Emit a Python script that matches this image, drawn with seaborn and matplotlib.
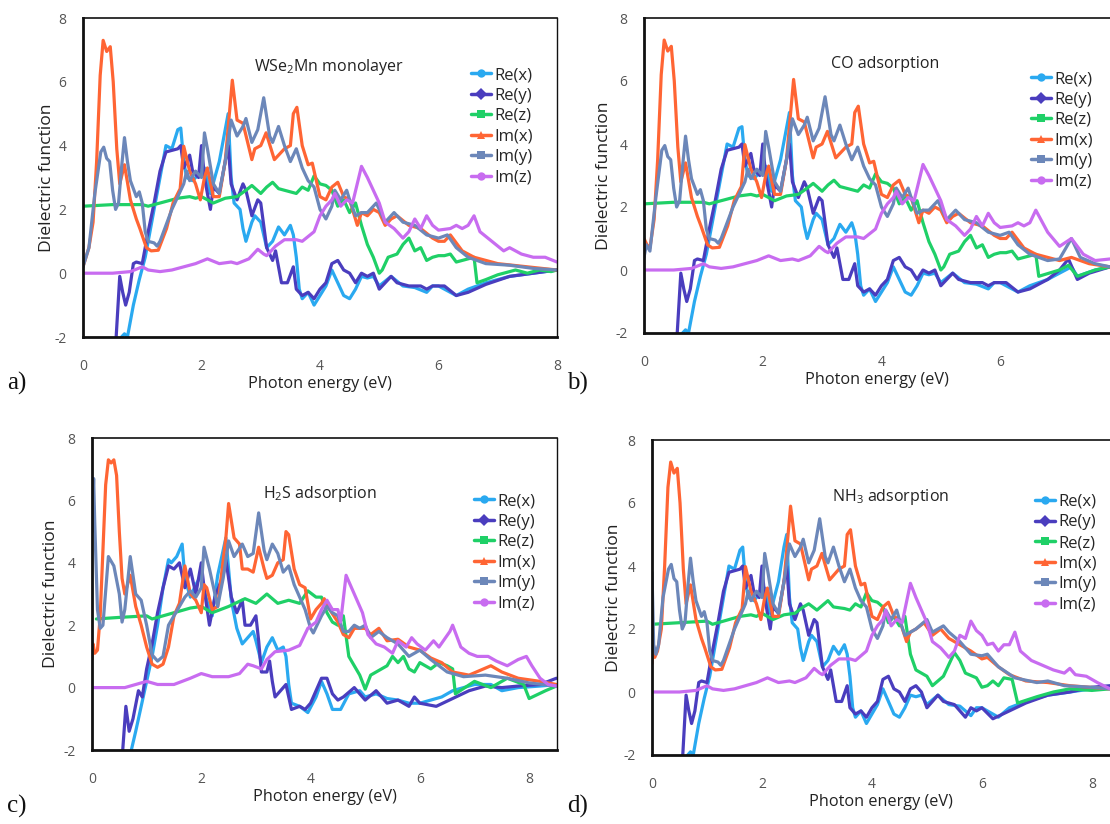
import matplotlib
matplotlib.use("Agg")
import matplotlib.pyplot as plt
from matplotlib.lines import Line2D
import seaborn as sns
import pandas as pd

# ---------------- data: (photon energy [eV], dielectric function) ----------------
# (a) WSe2Mn monolayer
REX_A = [(0.6,-2.3),(0.65,-2.0),(0.7,-1.9),(0.75,-2.0),(0.85,-1.0),(0.95,-0.2),(1.05,0.5),(1.2,2.0),(1.3,3.0),(1.4,4.0),(1.5,3.9),(1.6,4.5),(1.65,4.55),(1.7,3.5),(1.75,3.0),(1.85,2.9),(1.95,3.1),(2.05,3.3),(2.15,2.5),(2.3,3.5),(2.4,4.5),(2.45,5.0),(2.5,3.0),(2.55,2.2),(2.65,2.0),(2.7,1.4),(2.75,1.0),(2.85,1.6),(2.9,1.8),(3.0,1.6),(3.1,0.8),(3.2,1.0),(3.3,1.45),(3.4,1.2),(3.5,1.5),(3.55,1.2),(3.6,0.5),(3.65,-0.5),(3.7,-0.8),(3.8,-0.6),(3.9,-1.0),(4.0,-0.7),(4.1,-0.4),(4.2,0.1),(4.3,-0.3),(4.4,-0.7),(4.5,-0.8),(4.6,-0.5),(4.7,-0.1),(4.8,-0.15),(4.9,-0.1),(5.0,-0.4),(5.2,-0.1),(5.4,-0.4),(5.6,-0.45),(5.8,-0.6),(5.9,-0.4),(6.0,-0.4),(6.2,-0.6),(6.3,-0.7),(6.5,-0.5),(6.8,-0.3),(7.2,-0.1),(7.6,0.0),(8.0,0.1)]
REY_A = [(0.55,-2.3),(0.62,-0.1),(0.67,-0.6),(0.72,-1.0),(0.78,-0.6),(0.85,0.3),(0.9,0.35),(1.0,0.3),(1.1,1.3),(1.2,2.2),(1.3,3.2),(1.4,3.8),(1.5,3.85),(1.6,3.9),(1.65,4.0),(1.7,3.3),(1.8,3.7),(1.85,3.2),(1.95,3.0),(2.0,4.0),(2.05,3.0),(2.15,2.0),(2.2,2.7),(2.3,2.5),(2.4,3.5),(2.45,4.0),(2.5,2.8),(2.6,2.3),(2.7,2.8),(2.75,2.6),(2.85,1.8),(2.95,2.3),(3.0,2.2),(3.05,1.5),(3.1,0.8),(3.2,0.4),(3.25,0.7),(3.3,0.2),(3.35,-0.3),(3.45,-0.3),(3.55,0.2),(3.6,-0.5),(3.7,-0.7),(3.8,-0.6),(3.9,-0.8),(4.0,-0.5),(4.1,-0.3),(4.2,0.3),(4.3,0.4),(4.4,0.1),(4.5,0.0),(4.6,-0.3),(4.7,0.0),(4.8,-0.1),(4.9,0.0),(5.0,-0.5),(5.2,-0.1),(5.3,-0.3),(5.5,-0.4),(5.7,-0.4),(5.8,-0.5),(5.9,-0.4),(6.1,-0.4),(6.3,-0.7),(6.5,-0.6),(6.8,-0.35),(7.2,-0.1),(7.6,0.0),(8.0,0.1)]
REZ_A = [(0.0,2.1),(0.5,2.15),(1.0,2.15),(1.1,2.1),(1.4,2.25),(1.6,2.35),(1.8,2.4),(1.9,2.35),(2.0,2.4),(2.1,2.3),(2.2,2.2),(2.4,2.35),(2.6,2.4),(2.75,2.6),(2.85,2.75),(3.0,2.5),(3.1,2.7),(3.2,2.85),(3.3,2.65),(3.5,2.55),(3.6,2.5),(3.7,2.7),(3.8,2.6),(3.9,3.05),(4.0,2.8),(4.1,2.75),(4.2,2.6),(4.3,2.1),(4.4,2.3),(4.5,1.9),(4.6,2.2),(4.7,1.5),(4.8,0.9),(4.9,0.5),(5.0,0.0),(5.05,0.1),(5.15,0.5),(5.3,0.6),(5.4,0.9),(5.5,1.1),(5.6,0.7),(5.7,0.8),(5.8,0.4),(5.9,0.5),(6.0,0.55),(6.1,0.55),(6.2,0.6),(6.3,0.35),(6.4,0.4),(6.6,0.5),(6.65,-0.3),(6.8,-0.2),(7.0,-0.05),(7.3,0.1),(7.5,0.0),(7.7,0.1),(7.9,0.05),(8.0,0.1)]
IMX_A = [(0.0,0.2),(0.1,0.8),(0.17,1.6),(0.23,3.5),(0.29,6.2),(0.34,7.3),(0.4,6.95),(0.46,7.1),(0.51,6.0),(0.57,3.9),(0.62,2.8),(0.7,3.4),(0.8,2.3),(0.9,1.7),(0.96,1.4),(1.07,0.8),(1.15,0.7),(1.27,0.72),(1.41,1.4),(1.52,2.2),(1.64,2.65),(1.7,3.98),(1.8,3.2),(1.9,2.8),(1.98,2.3),(2.05,3.0),(2.1,3.3),(2.2,2.4),(2.3,2.4),(2.4,3.5),(2.52,6.05),(2.6,4.8),(2.7,4.7),(2.85,3.56),(2.9,3.9),(3.0,4.0),(3.09,4.4),(3.23,3.56),(3.3,3.7),(3.4,3.9),(3.5,4.0),(3.55,5.0),(3.61,5.2),(3.7,4.0),(3.8,3.4),(3.87,3.45),(4.0,2.4),(4.1,2.3),(4.2,2.7),(4.3,2.85),(4.4,2.4),(4.5,2.3),(4.63,1.5),(4.7,1.9),(4.8,1.8),(4.9,2.0),(5.0,1.9),(5.1,1.5),(5.2,1.7),(5.3,1.8),(5.5,1.5),(5.7,1.4),(5.9,1.1),(6.0,1.0),(6.1,1.0),(6.2,1.2),(6.4,0.7),(6.6,0.5),(7.0,0.3),(7.5,0.2),(8.0,0.1)]
IMY_A = [(0.0,0.2),(0.1,0.8),(0.2,2.5),(0.3,3.8),(0.35,3.95),(0.4,3.6),(0.45,3.5),(0.5,2.6),(0.55,2.0),(0.6,2.2),(0.65,3.3),(0.7,4.25),(0.75,3.5),(0.8,2.9),(0.9,2.4),(0.95,2.55),(1.0,2.2),(1.05,1.3),(1.1,1.0),(1.2,0.95),(1.25,0.85),(1.3,1.0),(1.4,1.5),(1.5,2.0),(1.6,2.4),(1.7,2.8),(1.75,3.2),(1.8,2.9),(1.9,3.2),(2.0,3.0),(2.05,4.4),(2.1,3.9),(2.2,2.8),(2.3,2.5),(2.4,3.5),(2.5,4.8),(2.6,4.3),(2.7,4.6),(2.75,4.85),(2.85,4.1),(2.95,4.5),(3.05,5.5),(3.15,4.3),(3.2,4.1),(3.3,4.6),(3.4,4.0),(3.5,3.5),(3.6,3.9),(3.7,3.3),(3.8,2.9),(3.9,2.7),(4.0,2.0),(4.1,1.7),(4.2,2.1),(4.25,2.6),(4.35,2.3),(4.45,2.6),(4.5,2.3),(4.6,1.8),(4.7,1.9),(4.8,1.9),(4.95,2.2),(5.1,1.6),(5.25,1.9),(5.4,1.6),(5.6,1.5),(5.8,1.2),(6.0,1.1),(6.15,1.2),(6.3,0.8),(6.5,0.5),(6.8,0.3),(7.2,0.25),(7.6,0.15),(8.0,0.1)]
IMZ_A = [(0.0,0.0),(0.5,0.0),(0.8,0.05),(1.0,0.2),(1.1,0.1),(1.3,0.05),(1.5,0.1),(1.7,0.2),(1.9,0.3),(2.1,0.45),(2.3,0.3),(2.5,0.35),(2.6,0.3),(2.8,0.45),(2.95,0.75),(3.05,0.6),(3.1,0.55),(3.25,0.85),(3.4,1.05),(3.6,1.05),(3.7,1.0),(3.8,1.15),(3.9,1.3),(4.0,1.8),(4.1,2.1),(4.2,2.3),(4.25,2.5),(4.35,2.1),(4.45,2.3),(4.55,2.2),(4.7,3.35),(4.8,3.0),(4.9,2.6),(5.0,2.2),(5.1,1.6),(5.25,1.4),(5.4,1.1),(5.5,1.3),(5.6,1.7),(5.7,1.4),(5.8,1.8),(5.9,1.5),(6.0,1.35),(6.2,1.4),(6.3,1.5),(6.4,1.4),(6.5,1.5),(6.6,1.8),(6.7,1.3),(6.9,1.0),(7.1,0.7),(7.2,0.8),(7.4,0.6),(7.6,0.5),(7.8,0.5),(8.0,0.35)]

# (b) CO adsorption
REX_B = [(0.6,-2.3),(0.65,-2.0),(0.7,-1.9),(0.75,-2.0),(0.85,-1.0),(0.95,-0.2),(1.05,0.5),(1.2,2.0),(1.3,3.0),(1.4,4.0),(1.5,3.9),(1.6,4.5),(1.65,4.55),(1.7,3.5),(1.75,3.0),(1.85,2.9),(1.95,3.1),(2.05,3.3),(2.15,2.5),(2.3,3.5),(2.4,4.5),(2.45,5.0),(2.5,3.0),(2.55,2.2),(2.65,2.0),(2.7,1.4),(2.75,1.0),(2.85,1.6),(2.9,1.8),(3.0,1.6),(3.1,0.8),(3.2,1.0),(3.3,1.45),(3.4,1.2),(3.5,1.5),(3.55,1.2),(3.6,0.5),(3.65,-0.5),(3.7,-0.8),(3.8,-0.6),(3.9,-1.0),(4.0,-0.7),(4.1,-0.4),(4.2,0.1),(4.3,-0.3),(4.4,-0.7),(4.5,-0.8),(4.6,-0.5),(4.7,-0.1),(4.8,-0.15),(4.9,-0.1),(5.0,-0.4),(5.2,-0.1),(5.4,-0.4),(5.6,-0.45),(5.8,-0.6),(5.9,-0.4),(6.0,-0.4),(6.2,-0.6),(6.3,-0.7),(6.5,-0.5),(6.8,-0.3),(7.0,-0.1),(7.2,0.1),(7.3,-0.2),(7.6,0.0),(7.85,0.1)]
REY_B = [(0.55,-2.3),(0.62,-0.1),(0.67,-0.6),(0.72,-1.0),(0.78,-0.6),(0.85,0.3),(0.9,0.35),(1.0,0.3),(1.1,1.3),(1.2,2.2),(1.3,3.2),(1.4,3.8),(1.5,3.85),(1.6,3.9),(1.65,4.0),(1.7,3.3),(1.8,3.7),(1.85,3.2),(1.95,3.0),(2.0,4.0),(2.05,3.0),(2.15,2.0),(2.2,2.7),(2.3,2.5),(2.4,3.5),(2.45,4.0),(2.5,2.8),(2.6,2.3),(2.7,2.8),(2.75,2.6),(2.85,1.8),(2.95,2.3),(3.0,2.2),(3.05,1.5),(3.1,0.8),(3.2,0.4),(3.25,0.7),(3.3,0.2),(3.35,-0.3),(3.45,-0.3),(3.55,0.2),(3.6,-0.5),(3.7,-0.7),(3.8,-0.6),(3.9,-0.8),(4.0,-0.5),(4.1,-0.3),(4.2,0.3),(4.3,0.4),(4.4,0.1),(4.5,0.0),(4.6,-0.3),(4.7,0.0),(4.8,-0.1),(4.9,0.0),(5.0,-0.5),(5.2,-0.1),(5.3,-0.3),(5.5,-0.4),(5.7,-0.4),(5.8,-0.5),(5.9,-0.4),(6.1,-0.4),(6.3,-0.7),(6.5,-0.6),(6.8,-0.3),(7.0,0.0),(7.15,0.35),(7.3,-0.3),(7.5,-0.1),(7.85,0.1)]
REZ_B = [(0.0,2.1),(0.5,2.15),(1.0,2.15),(1.1,2.1),(1.4,2.25),(1.6,2.35),(1.8,2.4),(1.9,2.35),(2.0,2.4),(2.1,2.3),(2.2,2.2),(2.4,2.35),(2.6,2.4),(2.75,2.6),(2.85,2.75),(3.0,2.5),(3.1,2.7),(3.2,2.85),(3.3,2.65),(3.5,2.55),(3.6,2.5),(3.7,2.7),(3.8,2.6),(3.9,3.05),(4.0,2.8),(4.1,2.75),(4.2,2.6),(4.3,2.1),(4.4,2.3),(4.5,1.9),(4.6,2.2),(4.7,1.5),(4.8,0.9),(4.9,0.5),(5.0,0.0),(5.05,0.1),(5.15,0.5),(5.3,0.6),(5.4,0.9),(5.5,1.1),(5.6,0.7),(5.7,0.8),(5.8,0.4),(5.9,0.5),(6.0,0.55),(6.1,0.55),(6.2,0.6),(6.3,0.35),(6.4,0.4),(6.6,0.5),(6.65,-0.2),(7.0,0.0),(7.15,0.15),(7.3,-0.2),(7.6,0.0),(7.85,0.1)]
IMX_B = [(0.0,1.0),(0.05,0.8),(0.1,0.7),(0.17,1.6),(0.23,3.5),(0.29,6.2),(0.34,7.3),(0.4,6.95),(0.46,7.1),(0.51,6.0),(0.57,3.9),(0.62,2.8),(0.7,3.4),(0.8,2.3),(0.9,1.7),(0.96,1.4),(1.07,0.8),(1.15,0.7),(1.27,0.72),(1.41,1.4),(1.52,2.2),(1.64,2.65),(1.7,3.98),(1.8,3.2),(1.9,2.8),(1.98,2.3),(2.05,3.0),(2.1,3.3),(2.2,2.4),(2.3,2.4),(2.4,3.5),(2.52,6.05),(2.6,4.8),(2.7,4.7),(2.85,3.56),(2.9,3.9),(3.0,4.0),(3.09,4.4),(3.23,3.56),(3.3,3.7),(3.4,3.9),(3.5,4.0),(3.55,5.0),(3.61,5.2),(3.7,4.0),(3.8,3.4),(3.87,3.45),(4.0,2.4),(4.1,2.3),(4.2,2.7),(4.3,2.85),(4.4,2.4),(4.5,2.3),(4.63,1.5),(4.7,1.9),(4.8,1.8),(4.9,2.0),(5.0,1.9),(5.1,1.5),(5.2,1.7),(5.3,1.8),(5.5,1.5),(5.7,1.4),(5.9,1.1),(6.0,1.0),(6.1,1.0),(6.2,1.2),(6.4,0.7),(6.6,0.5),(7.0,0.3),(7.2,0.4),(7.5,0.2),(7.85,0.1)]
IMY_B = [(0.0,0.4),(0.04,0.8),(0.1,0.6),(0.2,2.3),(0.3,3.8),(0.35,3.95),(0.4,3.6),(0.45,3.5),(0.5,2.6),(0.55,2.0),(0.6,2.2),(0.65,3.3),(0.7,4.25),(0.75,3.5),(0.8,2.9),(0.9,2.4),(0.95,2.55),(1.0,2.2),(1.05,1.3),(1.1,1.0),(1.2,0.95),(1.25,0.85),(1.3,1.0),(1.4,1.5),(1.5,2.0),(1.6,2.4),(1.7,2.8),(1.75,3.2),(1.8,2.9),(1.9,3.2),(2.0,3.0),(2.05,4.4),(2.1,3.9),(2.2,2.8),(2.3,2.5),(2.4,3.5),(2.5,4.8),(2.6,4.3),(2.7,4.6),(2.75,4.85),(2.85,4.1),(2.95,4.5),(3.05,5.5),(3.15,4.3),(3.2,4.1),(3.3,4.6),(3.4,4.0),(3.5,3.5),(3.6,3.9),(3.7,3.3),(3.8,2.9),(3.9,2.7),(4.0,2.0),(4.1,1.7),(4.2,2.1),(4.25,2.6),(4.35,2.3),(4.45,2.6),(4.5,2.3),(4.6,1.8),(4.7,1.9),(4.8,1.9),(4.95,2.2),(5.1,1.6),(5.25,1.9),(5.4,1.6),(5.6,1.5),(5.8,1.2),(6.0,1.1),(6.15,1.2),(6.3,0.8),(6.5,0.5),(6.8,0.3),(7.0,0.35),(7.2,1.0),(7.35,0.4),(7.6,0.2),(7.85,0.1)]
IMZ_B = [(0.0,0.0),(0.5,0.0),(0.8,0.05),(1.0,0.2),(1.1,0.1),(1.3,0.05),(1.5,0.1),(1.7,0.2),(1.9,0.3),(2.1,0.45),(2.3,0.3),(2.5,0.35),(2.6,0.3),(2.8,0.45),(2.95,0.75),(3.05,0.6),(3.1,0.55),(3.25,0.85),(3.4,1.05),(3.6,1.05),(3.7,1.0),(3.8,1.15),(3.9,1.3),(4.0,1.8),(4.1,2.1),(4.2,2.3),(4.25,2.5),(4.35,2.1),(4.45,2.3),(4.55,2.2),(4.7,3.35),(4.8,3.0),(4.9,2.6),(5.0,2.2),(5.1,1.6),(5.25,1.4),(5.4,1.1),(5.5,1.3),(5.6,1.7),(5.7,1.4),(5.8,1.8),(5.9,1.5),(6.0,1.35),(6.2,1.4),(6.3,1.5),(6.4,1.4),(6.5,1.5),(6.6,1.9),(6.8,1.2),(7.0,0.75),(7.2,1.0),(7.4,0.5),(7.6,0.3),(7.85,0.35)]

# (c) H2S adsorption
REX_C = [(0.68,-2.3),(0.72,-2.0),(0.8,-1.4),(0.9,-0.6),(1.0,0.2),(1.1,1.0),(1.2,2.0),(1.3,3.2),(1.4,4.1),(1.45,4.0),(1.55,4.2),(1.65,4.6),(1.7,3.5),(1.8,2.9),(1.9,3.3),(2.0,3.6),(2.1,2.8),(2.2,2.3),(2.3,3.6),(2.45,4.8),(2.5,3.8),(2.55,2.8),(2.65,1.9),(2.75,1.4),(2.85,1.6),(2.95,1.8),(3.0,1.5),(3.1,0.8),(3.2,1.3),(3.3,1.6),(3.4,1.2),(3.5,1.3),(3.55,1.0),(3.6,0.1),(3.65,-0.5),(3.8,-0.6),(3.95,-0.8),(4.1,-0.3),(4.2,0.2),(4.3,-0.2),(4.4,-0.7),(4.55,-0.7),(4.7,-0.2),(4.9,-0.1),(5.0,-0.3),(5.2,-0.2),(5.4,-0.35),(5.6,-0.4),(5.8,-0.5),(6.0,-0.5),(6.2,-0.4),(6.4,-0.3),(6.6,-0.1),(6.8,0.0),(7.0,0.1),(7.3,0.1),(7.5,-0.1),(7.8,0.0),(8.2,0.05),(8.5,0.1)]
REY_C = [(0.55,-2.3),(0.62,-0.6),(0.68,-1.4),(0.75,-1.0),(0.85,-0.1),(0.92,-0.3),(1.0,0.6),(1.1,1.4),(1.2,2.4),(1.3,3.2),(1.4,3.9),(1.5,3.8),(1.6,4.0),(1.7,3.2),(1.8,3.8),(1.9,3.0),(2.0,4.0),(2.05,3.2),(2.15,2.0),(2.25,2.9),(2.4,3.6),(2.45,4.1),(2.55,2.9),(2.65,2.4),(2.75,2.8),(2.8,2.0),(2.9,2.0),(3.0,2.3),(3.05,1.5),(3.1,0.5),(3.2,0.5),(3.25,0.85),(3.3,0.2),(3.35,-0.3),(3.45,-0.1),(3.55,0.1),(3.65,-0.7),(3.8,-0.6),(3.9,-0.7),(4.0,-0.5),(4.1,-0.1),(4.2,0.3),(4.3,0.3),(4.4,-0.2),(4.5,-0.4),(4.6,-0.3),(4.8,0.0),(5.0,-0.4),(5.2,-0.1),(5.4,-0.5),(5.6,-0.4),(5.8,-0.6),(5.9,-0.3),(6.0,-0.5),(6.3,-0.6),(6.6,-0.35),(6.9,-0.1),(7.2,0.05),(7.5,0.0),(7.8,0.05),(8.2,0.1),(8.5,0.3)]
REZ_C = [(0.08,2.2),(0.5,2.25),(1.0,2.3),(1.1,2.2),(1.5,2.4),(1.8,2.55),(2.0,2.6),(2.2,2.4),(2.5,2.6),(2.8,2.85),(3.0,2.7),(3.2,3.0),(3.4,2.7),(3.6,2.8),(3.8,2.7),(3.95,3.1),(4.1,2.9),(4.2,2.9),(4.3,2.4),(4.4,2.1),(4.5,2.0),(4.6,2.3),(4.7,1.0),(4.8,0.7),(4.9,0.4),(5.0,-0.05),(5.1,0.4),(5.2,0.5),(5.3,0.6),(5.4,0.7),(5.5,1.0),(5.6,0.8),(5.7,1.0),(5.8,0.6),(5.9,0.5),(6.0,0.8),(6.2,0.6),(6.35,0.8),(6.5,0.7),(6.6,0.6),(6.65,-0.2),(7.0,0.2),(7.3,0.0),(7.6,0.3),(7.9,0.1),(8.0,-0.35),(8.3,-0.1),(8.5,0.05)]
IMX_C = [(0.0,0.9),(0.02,1.4),(0.05,1.1),(0.1,1.2),(0.15,2.3),(0.25,6.5),(0.3,7.3),(0.35,7.2),(0.4,7.3),(0.45,6.8),(0.5,5.0),(0.55,3.5),(0.6,3.0),(0.7,3.6),(0.8,2.6),(0.9,2.0),(1.0,1.3),(1.1,0.75),(1.2,0.65),(1.3,0.75),(1.4,1.3),(1.5,2.3),(1.6,2.7),(1.7,3.9),(1.8,3.0),(1.9,2.8),(2.0,2.4),(2.05,3.3),(2.1,3.2),(2.2,2.5),(2.3,2.6),(2.45,4.8),(2.5,5.9),(2.6,4.8),(2.7,4.6),(2.75,3.8),(2.85,3.8),(2.95,3.7),(3.05,4.5),(3.15,3.8),(3.2,3.5),(3.3,3.6),(3.4,4.0),(3.5,4.1),(3.55,5.0),(3.6,4.9),(3.7,3.8),(3.8,3.3),(3.9,3.2),(4.0,2.2),(4.1,2.5),(4.2,2.7),(4.25,2.85),(4.35,2.5),(4.5,2.1),(4.6,1.7),(4.7,1.6),(4.8,1.9),(5.0,1.9),(5.1,1.7),(5.25,1.9),(5.4,1.5),(5.6,1.55),(5.8,1.3),(6.0,1.2),(6.2,0.95),(6.4,0.8),(6.6,0.5),(6.9,0.4),(7.3,0.7),(7.5,0.5),(7.8,0.3),(8.2,0.2),(8.5,0.1)]
IMY_C = [(0.0,5.0),(0.03,6.7),(0.05,5.3),(0.1,2.5),(0.15,1.9),(0.2,2.0),(0.3,4.2),(0.4,3.9),(0.5,3.0),(0.55,2.1),(0.6,2.5),(0.7,4.2),(0.8,3.0),(0.9,2.8),(1.0,2.0),(1.1,1.05),(1.2,0.85),(1.3,1.0),(1.4,2.0),(1.5,2.3),(1.6,2.6),(1.7,2.9),(1.8,3.1),(1.9,2.9),(2.0,3.2),(2.05,4.5),(2.15,3.8),(2.3,2.6),(2.4,3.5),(2.5,4.7),(2.6,4.2),(2.75,4.6),(2.85,4.2),(2.95,4.3),(3.05,5.6),(3.15,4.4),(3.2,4.1),(3.3,4.6),(3.4,4.3),(3.5,3.7),(3.6,3.9),(3.7,3.3),(3.8,2.9),(3.9,2.5),(4.0,1.9),(4.05,1.75),(4.2,2.3),(4.3,2.6),(4.4,2.4),(4.5,2.3),(4.6,1.8),(4.7,1.8),(4.8,2.0),(4.9,1.9),(5.0,2.0),(5.1,1.6),(5.25,1.8),(5.4,1.6),(5.6,1.4),(5.8,1.0),(6.0,1.2),(6.2,0.9),(6.5,0.5),(6.8,0.35),(7.2,0.4),(7.6,0.3),(8.0,0.15),(8.5,0.05)]
IMZ_C = [(0.0,0.0),(0.6,0.0),(0.9,0.15),(1.0,0.2),(1.2,0.1),(1.5,0.1),(1.8,0.3),(2.0,0.45),(2.2,0.35),(2.5,0.35),(2.7,0.45),(2.85,0.75),(2.95,0.7),(3.1,0.6),(3.2,0.9),(3.35,1.15),(3.6,1.2),(3.8,1.35),(3.95,1.9),(4.1,2.1),(4.2,2.5),(4.3,2.8),(4.4,2.5),(4.5,2.5),(4.55,2.1),(4.65,3.6),(4.8,3.0),(4.95,2.4),(5.05,1.7),(5.2,1.4),(5.35,1.3),(5.5,1.1),(5.6,1.5),(5.75,1.3),(5.85,1.6),(5.95,1.4),(6.1,1.2),(6.25,1.5),(6.35,1.3),(6.55,1.8),(6.6,2.0),(6.75,1.3),(6.9,1.1),(7.05,1.0),(7.25,1.0),(7.4,0.85),(7.6,0.7),(7.8,0.9),(7.95,1.0),(8.05,0.7),(8.2,0.3),(8.35,0.1),(8.5,0.05)]

# (d) NH3 adsorption
REX_D = [(0.6,-2.3),(0.65,-2.0),(0.7,-1.9),(0.75,-2.0),(0.85,-1.0),(0.95,-0.2),(1.05,0.5),(1.2,2.0),(1.3,3.0),(1.4,4.0),(1.5,3.9),(1.6,4.5),(1.65,4.6),(1.7,3.5),(1.75,3.0),(1.85,2.9),(1.95,3.1),(2.05,3.3),(2.15,2.5),(2.3,3.5),(2.4,4.6),(2.45,5.0),(2.5,3.0),(2.55,2.2),(2.65,2.0),(2.7,1.4),(2.75,1.0),(2.85,1.6),(2.9,1.8),(3.0,1.6),(3.1,0.8),(3.2,1.0),(3.3,1.45),(3.4,1.2),(3.5,1.5),(3.55,1.2),(3.6,0.5),(3.65,-0.5),(3.7,-0.8),(3.8,-0.6),(3.9,-1.0),(4.0,-0.7),(4.1,-0.4),(4.2,0.1),(4.3,-0.3),(4.4,-0.7),(4.5,-0.8),(4.6,-0.5),(4.7,-0.1),(4.8,-0.15),(4.9,-0.1),(5.0,-0.4),(5.2,-0.1),(5.4,-0.4),(5.6,-0.45),(5.8,-0.75),(5.9,-0.5),(6.0,-0.5),(6.2,-0.7),(6.3,-0.8),(6.5,-0.5),(6.8,-0.3),(7.2,-0.1),(7.6,0.0),(8.0,0.1),(8.33,0.15)]
REY_D = [(0.55,-2.3),(0.62,-0.1),(0.67,-0.6),(0.72,-1.0),(0.78,-0.6),(0.85,0.3),(0.9,0.35),(1.0,0.3),(1.1,1.3),(1.2,2.2),(1.3,3.2),(1.4,3.8),(1.5,3.85),(1.6,3.9),(1.65,4.0),(1.7,3.3),(1.8,3.7),(1.85,3.2),(1.95,3.0),(2.0,4.0),(2.05,3.0),(2.15,2.0),(2.2,2.7),(2.3,2.5),(2.4,3.5),(2.45,4.0),(2.5,2.8),(2.6,2.3),(2.7,2.8),(2.75,2.6),(2.85,1.8),(2.95,2.3),(3.0,2.2),(3.05,1.5),(3.1,0.8),(3.2,0.4),(3.25,0.7),(3.3,0.2),(3.35,-0.3),(3.45,-0.3),(3.55,0.2),(3.6,-0.5),(3.7,-0.7),(3.8,-0.6),(3.9,-0.8),(4.0,-0.5),(4.1,-0.3),(4.2,0.4),(4.3,0.5),(4.4,0.1),(4.5,0.0),(4.6,-0.3),(4.7,0.1),(4.8,0.2),(4.9,0.0),(5.0,-0.5),(5.2,-0.1),(5.3,-0.3),(5.5,-0.4),(5.7,-0.8),(5.8,-0.5),(5.9,-0.6),(6.0,-0.5),(6.2,-0.85),(6.5,-0.6),(6.8,-0.35),(7.2,-0.1),(7.6,0.0),(8.0,0.15),(8.33,0.2)]
REZ_D = [(0.0,2.15),(0.5,2.2),(1.0,2.25),(1.1,2.15),(1.4,2.3),(1.6,2.4),(1.8,2.45),(1.9,2.4),(2.0,2.5),(2.1,2.4),(2.2,2.3),(2.4,2.45),(2.6,2.5),(2.75,2.7),(2.85,2.8),(3.0,2.6),(3.1,2.75),(3.2,2.9),(3.3,2.7),(3.5,2.65),(3.6,2.6),(3.7,2.8),(3.8,2.7),(3.9,3.15),(4.0,2.9),(4.1,2.85),(4.2,2.7),(4.3,2.2),(4.4,2.4),(4.5,2.1),(4.6,2.4),(4.7,1.2),(4.8,0.7),(5.0,0.5),(5.1,0.2),(5.3,0.5),(5.5,1.25),(5.6,1.0),(5.7,0.6),(5.9,0.45),(6.0,0.15),(6.1,0.2),(6.2,0.35),(6.3,0.2),(6.4,0.45),(6.55,0.4),(6.65,-0.35),(7.0,-0.15),(7.3,0.0),(7.6,0.1),(8.0,0.05),(8.33,0.1)]
IMX_D = [(0.0,0.9),(0.02,1.6),(0.05,1.1),(0.1,1.3),(0.17,2.0),(0.23,4.0),(0.29,6.5),(0.34,7.3),(0.4,6.95),(0.46,7.1),(0.51,6.0),(0.57,3.9),(0.62,2.8),(0.7,3.4),(0.8,2.3),(0.9,1.7),(0.96,1.4),(1.07,0.8),(1.15,0.7),(1.27,0.72),(1.41,1.4),(1.52,2.2),(1.64,2.65),(1.7,3.98),(1.8,3.2),(1.9,2.8),(1.98,2.3),(2.05,3.0),(2.1,3.3),(2.2,2.4),(2.3,2.4),(2.4,3.5),(2.52,5.9),(2.6,4.8),(2.7,4.7),(2.85,3.56),(2.9,3.9),(3.0,4.0),(3.09,4.4),(3.23,3.56),(3.3,3.7),(3.4,3.9),(3.5,4.0),(3.55,5.0),(3.61,5.15),(3.7,4.0),(3.8,3.4),(3.87,3.45),(4.0,2.4),(4.1,2.3),(4.2,2.7),(4.3,2.85),(4.4,2.4),(4.5,2.3),(4.63,1.6),(4.7,1.9),(4.8,2.0),(4.95,2.2),(5.1,1.8),(5.25,2.0),(5.4,1.7),(5.6,1.5),(5.8,1.3),(6.0,1.05),(6.1,1.1),(6.3,0.8),(6.5,0.55),(6.8,0.35),(7.2,0.3),(7.6,0.2),(8.33,0.1)]
IMY_D = [(0.0,3.8),(0.03,1.5),(0.07,1.2),(0.12,1.5),(0.2,3.0),(0.3,3.9),(0.35,4.05),(0.4,3.6),(0.45,3.5),(0.5,2.6),(0.55,2.0),(0.6,2.2),(0.65,3.3),(0.7,4.25),(0.75,3.5),(0.8,2.9),(0.9,2.4),(0.95,2.55),(1.0,2.2),(1.05,1.3),(1.1,1.0),(1.2,0.95),(1.25,0.85),(1.3,1.0),(1.4,1.5),(1.5,2.0),(1.6,2.4),(1.7,2.8),(1.75,3.2),(1.8,2.9),(1.9,3.2),(2.0,3.0),(2.05,4.4),(2.1,3.9),(2.2,2.8),(2.3,2.5),(2.4,3.5),(2.5,4.7),(2.6,4.3),(2.7,4.6),(2.75,4.85),(2.85,4.1),(2.95,4.5),(3.05,5.5),(3.15,4.3),(3.2,4.1),(3.3,4.6),(3.4,4.0),(3.5,3.5),(3.6,3.9),(3.7,3.3),(3.8,2.9),(3.9,2.7),(4.0,2.0),(4.1,1.7),(4.2,2.1),(4.25,2.6),(4.35,2.3),(4.45,2.6),(4.5,2.3),(4.6,1.8),(4.7,1.9),(4.8,2.0),(5.0,2.3),(5.1,1.9),(5.3,2.1),(5.4,1.9),(5.6,1.6),(5.8,1.2),(6.0,1.15),(6.1,1.2),(6.3,0.8),(6.6,0.45),(7.0,0.3),(7.2,0.35),(7.5,0.2),(8.0,0.15),(8.33,0.1)]
IMZ_D = [(0.0,0.0),(0.5,0.0),(0.8,0.05),(1.0,0.2),(1.1,0.1),(1.3,0.05),(1.5,0.1),(1.7,0.2),(1.9,0.3),(2.1,0.45),(2.3,0.3),(2.5,0.35),(2.6,0.3),(2.8,0.45),(2.95,0.75),(3.05,0.6),(3.1,0.55),(3.25,0.85),(3.4,1.05),(3.6,1.05),(3.7,1.0),(3.8,1.15),(3.9,1.3),(4.0,1.8),(4.1,2.1),(4.2,2.3),(4.25,2.6),(4.35,2.1),(4.45,2.3),(4.55,2.2),(4.7,3.45),(4.8,3.0),(4.9,2.6),(5.0,2.2),(5.1,1.6),(5.25,1.4),(5.4,1.1),(5.5,1.3),(5.6,1.8),(5.7,1.7),(5.8,2.25),(5.9,1.95),(6.0,1.8),(6.1,1.5),(6.2,1.55),(6.3,1.3),(6.4,1.5),(6.5,1.5),(6.6,1.9),(6.7,1.3),(6.9,1.0),(7.1,0.85),(7.3,0.7),(7.5,0.6),(7.6,0.75),(7.7,0.55),(7.9,0.5),(8.1,0.3),(8.33,0.1)]

SERIES = ["Re(x)", "Re(y)", "Re(z)", "Im(x)", "Im(y)", "Im(z)"]
COLORS = ["#2AA9F0", "#4A3DBE", "#1FD067", "#FF6534", "#6C87B9", "#C86CF0"]
MARKERS = ["o", "D", "s", "^", "s", "o"]

# Panel layout in pixels: axes rect (left, top, right, bottom), y-label offset,
# legend top-left, panel tag centre.
PANELS = [
    dict(tag="a)", title=r"WSe$_2$Mn monolayer", data=[REX_A, REY_A, REZ_A, IMX_A, IMY_A, IMZ_A],
         rect=(83, 18, 557, 337), xmax=8.0, right=True, title_xy=(0.52, 0.845),
         ylab_off=33, leg_px=(471, 67), tag_px=(7, 383)),
    dict(tag="b)", title="CO adsorption", data=[REX_B, REY_B, REZ_B, IMX_B, IMY_B, IMZ_B],
         rect=(644, 18, 1110, 333), xmax=7.85, right=False, title_xy=(0.517, 0.855),
         ylab_off=37, leg_px=(1031, 71), tag_px=(567, 383)),
    dict(tag="c)", title=r"H$_2$S adsorption", data=[REX_C, REY_C, REZ_C, IMX_C, IMY_C, IMZ_C],
         rect=(92, 438, 557, 750), xmax=8.51, right=True, title_xy=(0.49, 0.82),
         ylab_off=38, leg_px=(474, 493), tag_px=(7, 806)),
    dict(tag="d)", title=r"NH$_3$ adsorption", data=[REX_D, REY_D, REZ_D, IMX_D, IMY_D, IMZ_D],
         rect=(652, 440, 1110, 755), xmax=8.33, right=False, title_xy=(0.52, 0.82),
         ylab_off=35, leg_px=(1035, 494), tag_px=(567, 806)),
]

# ---------------- styling ----------------
sns.set_theme(style="white")
plt.rcParams["font.family"] = ["Open Sans", "DejaVu Sans"]
plt.rcParams["mathtext.default"] = "regular"

W, H = 1110, 824
fig = plt.figure(figsize=(W / 100, H / 100), dpi=100)
palette = dict(zip(SERIES, COLORS))

for p in PANELS:
    x0, y0, x1, y1 = p["rect"]
    width = x1 - x0
    ax = fig.add_axes([x0 / W, 1 - y1 / H, width / W, (y1 - y0) / H])

    rows = []
    for name, pts in zip(SERIES, p["data"]):
        for e, v in pts:
            rows.append((name, e, v))
    df = pd.DataFrame(rows, columns=["series", "energy", "value"])

    sns.lineplot(data=df, x="energy", y="value", hue="series", hue_order=SERIES,
                 palette=palette, sort=False, estimator=None, legend=False,
                 linewidth=2.3, ax=ax)

    ax.set_xlim(0, p["xmax"])
    ax.set_ylim(-2, 8)
    ax.set_xticks([0, 2, 4, 6, 8] if p["xmax"] >= 8 else [0, 2, 4, 6])
    ax.set_yticks([-2, 0, 2, 4, 6, 8])
    ax.set_yticklabels(["-2", "0", "2", "4", "6", "8"])
    ax.tick_params(axis="x", direction="in", length=5, width=1, pad=16,
                   labelsize=10, labelcolor="#555555", color="#222222")
    ax.tick_params(axis="y", direction="in", length=5, width=1, pad=12,
                   labelsize=10, labelcolor="#555555", color="#222222")
    ax.set_xlabel("Photon energy (eV)", fontsize=11.7, color="#222222", labelpad=1)
    ax.set_ylabel("Dielectric function", fontsize=12.6, color="#222222")
    ax.yaxis.set_label_coords(-(p["ylab_off"] - 5) / width, 0.5)

    for side in ("left", "bottom"):
        ax.spines[side].set_linewidth(2.0)
        ax.spines[side].set_color("#111111")
    ax.spines["top"].set_linewidth(1.2)
    ax.spines["top"].set_color("#111111")
    if p["right"]:
        ax.spines["right"].set_linewidth(1.0)
        ax.spines["right"].set_color("#111111")
    else:
        ax.spines["right"].set_visible(False)

    ax.text(*p["title_xy"], p["title"], transform=ax.transAxes, ha="center", va="center",
            fontsize=11.5, color="#222222")

    handles = [Line2D([0], [0], color=c, lw=2.5, marker=m, markersize=6,
                      markeredgewidth=0)
               for c, m in zip(COLORS, MARKERS)]
    lx, ly = p["leg_px"]
    ax.legend(handles, SERIES, loc="upper left", bbox_to_anchor=(lx / W, 1 - ly / H),
              bbox_transform=fig.transFigure, frameon=False, fontsize=12,
              handlelength=1.2, handletextpad=0.2, labelspacing=0.27,
              borderaxespad=0, borderpad=0)

    fig.text(p["tag_px"][0] / W, 1 - p["tag_px"][1] / H, p["tag"], ha="left", va="center",
             fontsize=18, family="Liberation Serif", color="#111111")

fig.savefig("out.png", dpi=100)
